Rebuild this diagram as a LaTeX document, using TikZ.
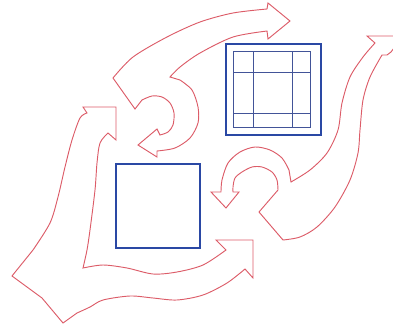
\documentclass[tikz,border=0pt]{standalone}
\usepackage{xcolor}
\usepackage{tikz}
\definecolor{arrowred}{RGB}{220,92,104}
\definecolor{boxblue}{RGB}{42,72,164}
\definecolor{gridblue}{RGB}{66,84,152}

\begin{document}
\begin{tikzpicture}[
    x=0.75pt, y=-0.75pt,
    flow/.style={draw=arrowred, line width=0.7pt, line join=miter},
    box/.style={draw=boxblue, line width=2.1pt},
    grid/.style={draw=gridblue, line width=0.55pt},
]
    \clip (0,0) rectangle (393,325);

    % upper arrow with curl
    \draw[flow] plot[smooth] coordinates {(113,78) (133,57) (167,37) (200,22) (233,13) (267,9)}
        -- (268,3) -- (290,21) -- (268,39)
        -- plot[smooth] coordinates {(267,31) (233,37) (200,53) (180,67) (170,77)}
        -- plot[smooth] coordinates {(180,80) (192,90) (198,107) (198,123) (190,138) (175,148) (157,151)}
        -- (157,157) -- (138,145) -- (157,129)
        -- plot[smooth] coordinates {(160,135) (168,132) (173,125) (174,113) (170,103) (162,97) (152,96) (142,100)}
        -- (135,109) -- cycle;

    % right arrow with curl
    \draw[flow] (259,212)
        -- plot[smooth] coordinates {(283,240) (300,237) (317,227) (335,207) (350,180) (358,153) (360,130) (363,100) (370,77) (382,55)}
        -- (387,55) -- (391,52) -- (403,36) -- (367,36)
        -- plot[smooth] coordinates {(375,43) (363,57) (350,77) (342,103) (338,130) (327,153) (310,170) (291,182)}
        -- plot[smooth] coordinates {(289,170) (282,158) (270,150) (255,147) (240,152) (228,163) (222,180) (221,192)}
        -- (211,192) -- (226,208) -- (239,192)
        -- plot[smooth] coordinates {(233,192) (233,187) (235,178) (242,172) (252,167) (262,167) (272,172) (277,180) (278,190)}
        -- cycle;

    % bent double arrow
    \draw[flow] plot[smooth] coordinates {(83,268) (87,250) (90,230) (95,190) (97,163) (100,143) (108,133)}
        -- (116,140) -- (116,107) -- (83,107)
        -- plot[smooth] coordinates {(87,113) (80,118) (72,140) (65,167) (58,197) (50,223) (33,250)}
        -- (12,276) -- (27,287) -- (42,298) -- (63,323)
        -- plot[smooth] coordinates {(77,313) (90,307) (103,300) (130,296) (153,298) (177,300) (203,295) (227,283) (245,269)}
        -- (253,278) -- (253,240) -- (216,240)
        -- plot[smooth] coordinates {(226,250) (203,265) (177,272) (153,274) (127,268) (103,265) (83,268)}
        -- cycle;

    \draw[box] (116,164) rectangle (200,248);
    \draw[box] (226,44) rectangle (321,135);
    \draw[grid] (233,51) rectangle (310,127);
    \draw[grid] (253,51) -- (253,127) (292,51) -- (292,127)
        (233,72) -- (310,72) (233,113) -- (310,113);
\end{tikzpicture}
\end{document}
